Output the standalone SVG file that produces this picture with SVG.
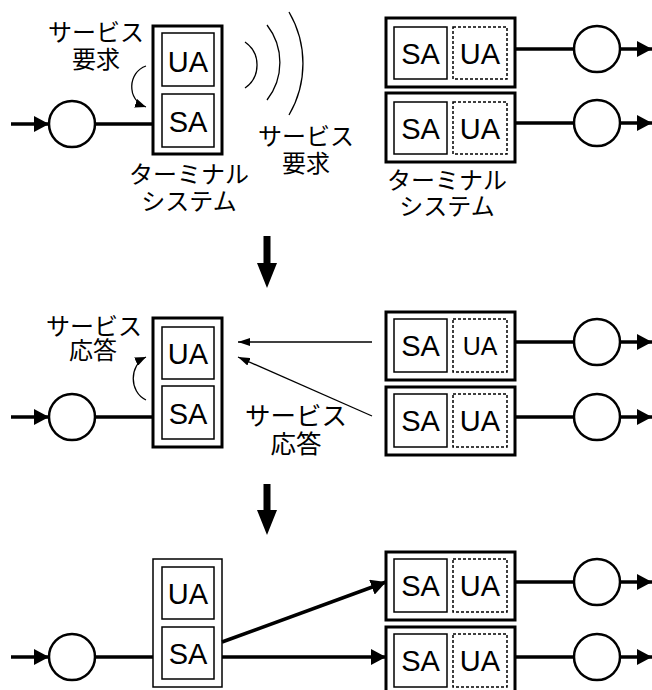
<svg xmlns="http://www.w3.org/2000/svg" width="652" height="690" viewBox="0 0 652 690">
<style>
.outer{fill:#fff;stroke:#000;stroke-width:3}
.outerthin{fill:#fff;stroke:#000;stroke-width:1.5}
.inner{fill:#fff;stroke:#000;stroke-width:1.5}
.dash{fill:#fff;stroke:#000;stroke-width:1.5;stroke-dasharray:3 2}
.node{fill:#fff;stroke:#000;stroke-width:2.5}
.thick{fill:none;stroke:#000;stroke-width:3.5}
.thin{fill:none;stroke:#000;stroke-width:1.3}
.wave{fill:none;stroke:#000;stroke-width:1.3}
.lat{font-family:"Liberation Sans",Arial,sans-serif;font-size:29px;text-anchor:middle;fill:#000}
.jp{font-family:"Noto Sans CJK JP","Noto Sans",sans-serif;font-size:24px;text-anchor:middle;fill:#000}
</style>
<defs>
<marker id="ah" markerUnits="userSpaceOnUse" markerWidth="15" markerHeight="16" refX="15" refY="8" orient="auto"><path d="M0,0 L15,8 L0,16 z" fill="#000"/></marker>
<marker id="ahs" markerUnits="userSpaceOnUse" markerWidth="12" markerHeight="8" refX="12" refY="4" orient="auto"><path d="M0,0 L12,4 L0,8 z" fill="#000"/></marker>
<marker id="ahc" markerUnits="userSpaceOnUse" markerWidth="11" markerHeight="9" refX="11" refY="4.5" orient="auto"><path d="M0,0 L11,4.5 L0,9 z" fill="#000"/></marker>
</defs>

<!-- ============ Section 1 ============ -->
<g id="s1-term-left">
<rect class="outer" x="153" y="26" width="69" height="128"/>
<rect class="inner" x="162" y="33" width="52" height="53"/>
<rect class="inner" x="162" y="94" width="52" height="53"/>
<text class="lat" x="188" y="72">UA</text>
<text class="lat" x="188" y="132">SA</text>
</g>
<g id="s1-circle-left"><circle class="node" cx="72" cy="124" r="23"/></g>
<g id="s1-term-r1">
<rect class="outer" x="386" y="18" width="129" height="69"/>
<rect class="inner" x="394" y="27" width="53" height="52"/>
<rect class="dash" x="453" y="27" width="54" height="52"/>
<text class="lat" x="420.5" y="63.5">SA</text>
<text class="lat" x="480" y="63.5">UA</text>
</g>
<g id="s1-term-r2">
<rect class="outer" x="386" y="93" width="129" height="69"/>
<rect class="inner" x="394" y="102" width="53" height="52"/>
<rect class="dash" x="453" y="102" width="54" height="52"/>
<text class="lat" x="420.5" y="138.5">SA</text>
<text class="lat" x="480" y="138.5">UA</text>
</g>
<g id="s1-circle-r1"><circle class="node" cx="597" cy="49" r="23"/></g>
<g id="s1-circle-r2"><circle class="node" cx="597" cy="123" r="23"/></g>
<g id="s1-labels">
<text class="jp" x="96" y="41">サービス</text>
<text class="jp" x="96" y="68">要求</text>
<text class="jp" x="306" y="145">サービス</text>
<text class="jp" x="306" y="172">要求</text>
<text class="jp" x="189" y="183">ターミナル</text>
<text class="jp" x="189" y="210">システム</text>
<text class="jp" x="447" y="189">ターミナル</text>
<text class="jp" x="447" y="215">システム</text>
</g>
<g id="s1-waves">
<path class="wave" d="M245,42 A28,28 0 0 1 245,88"/>
<path class="wave" d="M267,25 A61,61 0 0 1 267,100"/>
<path class="wave" d="M289,12 A102,102 0 0 1 289,115"/>
</g>

<!-- ============ Section 2 ============ -->
<g id="s2-term-left">
<rect class="outer" x="153" y="318" width="69" height="129"/>
<rect class="inner" x="162" y="327" width="52" height="52"/>
<rect class="inner" x="162" y="386" width="52" height="53"/>
<text class="lat" x="188" y="364">UA</text>
<text class="lat" x="188" y="423.5">SA</text>
</g>
<g id="s2-circle-left"><circle class="node" cx="72" cy="417" r="23"/></g>
<g id="s2-term-r1">
<rect class="outer" x="386" y="312" width="129" height="68"/>
<rect class="inner" x="394" y="319" width="53" height="53"/>
<rect class="dash" x="453" y="319" width="54" height="53"/>
<text class="lat" x="420.5" y="356">SA</text>
<text class="lat" x="480" y="355" style="font-size:25px">UA</text>
</g>
<g id="s2-term-r2">
<rect class="outer" x="386" y="387" width="129" height="68"/>
<rect class="inner" x="394" y="394" width="53" height="53"/>
<rect class="dash" x="453" y="394" width="54" height="53"/>
<text class="lat" x="420.5" y="431">SA</text>
<text class="lat" x="480" y="431">UA</text>
</g>
<g id="s2-circle-r1"><circle class="node" cx="597" cy="342" r="23"/></g>
<g id="s2-circle-r2"><circle class="node" cx="597" cy="417" r="23"/></g>
<g id="s2-labels">
<text class="jp" x="94" y="335">サービス</text>
<text class="jp" x="93" y="359">応答</text>
<text class="jp" x="296" y="425" style="font-size:25.5px">サービス</text>
<text class="jp" x="296" y="453" style="font-size:25.5px">応答</text>
</g>

<!-- ============ Section 3 ============ -->
<g id="s3-term-left">
<rect class="outerthin" x="153" y="559" width="69" height="128"/>
<rect class="inner" x="162" y="567" width="52" height="52"/>
<rect class="inner" x="162" y="627" width="52" height="52"/>
<text class="lat" x="188" y="604">UA</text>
<text class="lat" x="188" y="664">SA</text>
</g>
<g id="s3-circle-left"><circle class="node" cx="72" cy="657" r="23"/></g>
<g id="s3-term-r1">
<rect class="outer" x="386" y="552" width="129" height="68"/>
<rect class="inner" x="394" y="559" width="53" height="53"/>
<rect class="dash" x="453" y="559" width="54" height="53"/>
<text class="lat" x="420.5" y="596">SA</text>
<text class="lat" x="480" y="596">UA</text>
</g>
<g id="s3-term-r2">
<rect class="outer" x="386" y="627" width="129" height="68"/>
<rect class="inner" x="394" y="634" width="53" height="53"/>
<rect class="dash" x="453" y="634" width="54" height="53"/>
<text class="lat" x="420.5" y="671">SA</text>
<text class="lat" x="480" y="671">UA</text>
</g>
<g id="s3-circle-r1"><circle class="node" cx="597" cy="582" r="23"/></g>
<g id="s3-circle-r2"><circle class="node" cx="597" cy="657" r="23"/></g>

<!-- ============ Connectors ============ -->
<g id="connectors">
<!-- section 1 -->
<line class="thick" x1="11" y1="124" x2="49" y2="124" marker-end="url(#ah)"/>
<line class="thick" x1="95" y1="124" x2="153" y2="124"/>
<line class="thick" x1="515" y1="49" x2="574" y2="49"/>
<line class="thick" x1="620" y1="49" x2="652" y2="49" marker-end="url(#ah)"/>
<line class="thick" x1="515" y1="123" x2="574" y2="123"/>
<line class="thick" x1="620" y1="123" x2="652" y2="123" marker-end="url(#ah)"/>
<path class="thin" d="M146,66 C128,72 126,100 146,107" marker-end="url(#ahc)"/>
<!-- step arrows -->
<rect x="263.5" y="236" width="7" height="28" fill="#000"/>
<polygon points="257,263 277,263 267,288" fill="#000"/>
<rect x="263.5" y="484" width="7" height="27" fill="#000"/>
<polygon points="257,510 277,510 267,535" fill="#000"/>
<!-- section 2 -->
<line class="thick" x1="11" y1="417" x2="49" y2="417" marker-end="url(#ah)"/>
<line class="thick" x1="95" y1="417" x2="153" y2="417"/>
<line class="thick" x1="515" y1="342" x2="574" y2="342"/>
<line class="thick" x1="620" y1="342" x2="652" y2="342" marker-end="url(#ah)"/>
<line class="thick" x1="515" y1="417" x2="574" y2="417"/>
<line class="thick" x1="620" y1="417" x2="652" y2="417" marker-end="url(#ah)"/>
<path class="thin" d="M146,400 C129,392 129,365 146,357" marker-end="url(#ahc)"/>
<line class="thin" x1="372" y1="342" x2="238" y2="342" marker-end="url(#ahs)"/>
<line class="thin" x1="372" y1="416" x2="238" y2="357" marker-end="url(#ahs)"/>
<!-- section 3 -->
<line class="thick" x1="11" y1="657" x2="49" y2="657" marker-end="url(#ah)"/>
<line class="thick" x1="95" y1="657" x2="153" y2="657"/>
<line class="thick" x1="222" y1="642" x2="386" y2="582" marker-end="url(#ah)"/>
<line class="thick" x1="222" y1="657" x2="386" y2="657" marker-end="url(#ah)"/>
<line class="thick" x1="515" y1="582" x2="574" y2="582"/>
<line class="thick" x1="620" y1="582" x2="652" y2="582" marker-end="url(#ah)"/>
<line class="thick" x1="515" y1="657" x2="574" y2="657"/>
<line class="thick" x1="620" y1="657" x2="652" y2="657" marker-end="url(#ah)"/>
</g>
</svg>
